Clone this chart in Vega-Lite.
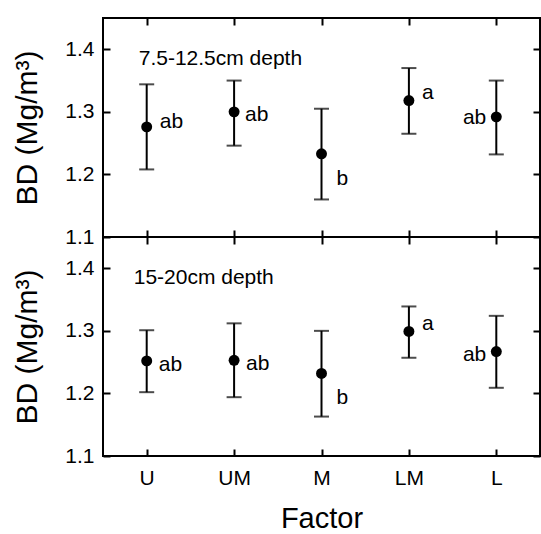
{
  "$schema": "https://vega.github.io/schema/vega-lite/v6.json",
  "padding": {"left": 11, "top": 16, "right": 0, "bottom": 0},
  "spacing": 0,
  "bounds": "flush",
  "config": {
    "font": "Liberation Sans",
    "view": {"stroke": "black", "strokeWidth": 2},
    "text": {"fontWeight": "normal"},
    "axis": {
      "domain": false, "grid": false,
      "tickColor": "black", "tickWidth": 2, "tickSize": -7,
      "labelColor": "black", "labelFontSize": 21, "labelPadding": 16,
      "titleColor": "black", "titleFontWeight": "normal", "titleFontSize": 30
    }
  },
  "datasets": {
    "bd": [
      {"depth": "top", "factor": "U", "mean": 1.276, "lower": 1.208, "upper": 1.344, "letter": "ab"},
      {"depth": "top", "factor": "UM", "mean": 1.300, "lower": 1.246, "upper": 1.350, "letter": "ab"},
      {"depth": "top", "factor": "M", "mean": 1.233, "lower": 1.160, "upper": 1.305, "letter": "b"},
      {"depth": "top", "factor": "LM", "mean": 1.318, "lower": 1.265, "upper": 1.370, "letter": "a"},
      {"depth": "top", "factor": "L", "mean": 1.292, "lower": 1.232, "upper": 1.350, "letter": "ab"},
      {"depth": "bottom", "factor": "U", "mean": 1.252, "lower": 1.202, "upper": 1.301, "letter": "ab"},
      {"depth": "bottom", "factor": "UM", "mean": 1.253, "lower": 1.194, "upper": 1.312, "letter": "ab"},
      {"depth": "bottom", "factor": "M", "mean": 1.232, "lower": 1.163, "upper": 1.300, "letter": "b"},
      {"depth": "bottom", "factor": "LM", "mean": 1.299, "lower": 1.257, "upper": 1.339, "letter": "a"},
      {"depth": "bottom", "factor": "L", "mean": 1.267, "lower": 1.209, "upper": 1.324, "letter": "ab"}
    ],
    "labels": [
      {"depth": "top", "label": "7.5-12.5cm depth"},
      {"depth": "bottom", "label": "15-20cm depth"}
    ]
  },
  "vconcat": [
    {
      "width": 437, "height": 219,
      "data": {"name": "bd"},
      "transform": [{"filter": "datum.depth === 'top'"}],
      "layer": [
        {
          "mark": {"type": "rule", "strokeWidth": 2, "color": "black"},
          "encoding": {
            "x": {"field": "factor", "type": "nominal", "scale": {"type": "point", "domain": ["U", "UM", "M", "LM", "L"], "padding": 0.5},
                  "axis": {"orient": "bottom", "labels": false, "title": null}},
            "y": {"field": "lower", "type": "quantitative", "scale": {"domain": [1.1, 1.45], "nice": false, "zero": false},
                  "axis": {"orient": "left", "values": [1.1, 1.2, 1.3, 1.4], "format": ".1f", "labelFlush": false, "title": "BD (Mg/m³)", "titlePadding": 22}},
            "y2": {"field": "upper"}
          }
        },
        {
          "mark": {"type": "tick", "thickness": 2, "size": 15, "color": "black"},
          "encoding": {
            "x": {"field": "factor", "type": "nominal", "axis": {"orient": "top", "labels": false, "title": null}},
            "y": {"field": "upper", "type": "quantitative", "axis": {"orient": "right", "labels": false, "title": null, "values": [1.1, 1.2, 1.3, 1.4]}}
          }
        },
        {
          "mark": {"type": "tick", "thickness": 2, "size": 15, "color": "black"},
          "encoding": {
            "x": {"field": "factor", "type": "nominal", "axis": null},
            "y": {"field": "lower", "type": "quantitative", "axis": null}
          }
        },
        {
          "mark": {"type": "point", "filled": true, "size": 120, "color": "black", "opacity": 1},
          "encoding": {
            "x": {"field": "factor", "type": "nominal", "axis": null},
            "y": {"field": "mean", "type": "quantitative", "axis": null}
          }
        },
        {
          "transform": [{"filter": "datum.factor === 'U'"}],
          "mark": {"type": "text", "align": "left", "baseline": "alphabetic", "dx": 13, "dy": 1, "fontSize": 21, "fontWeight": "normal", "color": "black"},
          "encoding": {"x": {"field": "factor", "type": "nominal", "axis": null}, "y": {"field": "mean", "type": "quantitative", "axis": null}, "text": {"field": "letter"}}
        },
        {
          "transform": [{"filter": "datum.factor === 'UM'"}],
          "mark": {"type": "text", "align": "left", "baseline": "alphabetic", "dx": 11, "dy": 9, "fontSize": 21, "fontWeight": "normal", "color": "black"},
          "encoding": {"x": {"field": "factor", "type": "nominal", "axis": null}, "y": {"field": "mean", "type": "quantitative", "axis": null}, "text": {"field": "letter"}}
        },
        {
          "transform": [{"filter": "datum.factor === 'M'"}],
          "mark": {"type": "text", "align": "left", "baseline": "alphabetic", "dx": 15, "dy": 31, "fontSize": 21, "fontWeight": "normal", "color": "black"},
          "encoding": {"x": {"field": "factor", "type": "nominal", "axis": null}, "y": {"field": "mean", "type": "quantitative", "axis": null}, "text": {"field": "letter"}}
        },
        {
          "transform": [{"filter": "datum.factor === 'LM'"}],
          "mark": {"type": "text", "align": "left", "baseline": "alphabetic", "dx": 13, "dy": -2, "fontSize": 21, "fontWeight": "normal", "color": "black"},
          "encoding": {"x": {"field": "factor", "type": "nominal", "axis": null}, "y": {"field": "mean", "type": "quantitative", "axis": null}, "text": {"field": "letter"}}
        },
        {
          "transform": [{"filter": "datum.factor === 'L'"}],
          "mark": {"type": "text", "align": "right", "baseline": "alphabetic", "dx": -10, "dy": 7, "fontSize": 21, "fontWeight": "normal", "color": "black"},
          "encoding": {"x": {"field": "factor", "type": "nominal", "axis": null}, "y": {"field": "mean", "type": "quantitative", "axis": null}, "text": {"field": "letter"}}
        },
        {
          "data": {"name": "labels"},
          "transform": [{"filter": "datum.depth === 'top'"}],
          "mark": {"type": "text", "align": "left", "baseline": "alphabetic", "dx": -8, "dy": 16, "fontSize": 21, "fontWeight": "normal", "color": "black"},
          "encoding": {"x": {"datum": "U", "type": "nominal", "axis": null}, "y": {"datum": 1.4, "type": "quantitative", "axis": null}, "text": {"field": "label"}}
        }
      ]
    },
    {
      "width": 437, "height": 219,
      "data": {"name": "bd"},
      "transform": [{"filter": "datum.depth === 'bottom'"}],
      "layer": [
        {
          "mark": {"type": "rule", "strokeWidth": 2, "color": "black"},
          "encoding": {
            "x": {"field": "factor", "type": "nominal", "scale": {"type": "point", "domain": ["U", "UM", "M", "LM", "L"], "padding": 0.5},
                  "axis": {"orient": "bottom", "labelAngle": 0, "labelPadding": 18, "title": "Factor", "titleFontSize": 29, "titlePadding": 16}},
            "y": {"field": "lower", "type": "quantitative", "scale": {"domain": [1.1, 1.45], "nice": false, "zero": false},
                  "axis": {"orient": "left", "values": [1.1, 1.2, 1.3, 1.4], "format": ".1f", "labelFlush": false, "title": "BD (Mg/m³)", "titlePadding": 22}},
            "y2": {"field": "upper"}
          }
        },
        {
          "mark": {"type": "tick", "thickness": 2, "size": 15, "color": "black"},
          "encoding": {
            "x": {"field": "factor", "type": "nominal", "axis": {"orient": "top", "labels": false, "title": null}},
            "y": {"field": "upper", "type": "quantitative", "axis": {"orient": "right", "labels": false, "title": null, "values": [1.1, 1.2, 1.3, 1.4]}}
          }
        },
        {
          "mark": {"type": "tick", "thickness": 2, "size": 15, "color": "black"},
          "encoding": {
            "x": {"field": "factor", "type": "nominal", "axis": null},
            "y": {"field": "lower", "type": "quantitative", "axis": null}
          }
        },
        {
          "mark": {"type": "point", "filled": true, "size": 120, "color": "black", "opacity": 1},
          "encoding": {
            "x": {"field": "factor", "type": "nominal", "axis": null},
            "y": {"field": "mean", "type": "quantitative", "axis": null}
          }
        },
        {
          "transform": [{"filter": "datum.factor === 'U' || datum.factor === 'UM'"}],
          "mark": {"type": "text", "align": "left", "baseline": "alphabetic", "dx": 12, "dy": 10, "fontSize": 21, "fontWeight": "normal", "color": "black"},
          "encoding": {"x": {"field": "factor", "type": "nominal", "axis": null}, "y": {"field": "mean", "type": "quantitative", "axis": null}, "text": {"field": "letter"}}
        },
        {
          "transform": [{"filter": "datum.factor === 'M'"}],
          "mark": {"type": "text", "align": "left", "baseline": "alphabetic", "dx": 15, "dy": 31, "fontSize": 21, "fontWeight": "normal", "color": "black"},
          "encoding": {"x": {"field": "factor", "type": "nominal", "axis": null}, "y": {"field": "mean", "type": "quantitative", "axis": null}, "text": {"field": "letter"}}
        },
        {
          "transform": [{"filter": "datum.factor === 'LM'"}],
          "mark": {"type": "text", "align": "left", "baseline": "alphabetic", "dx": 13, "dy": -1, "fontSize": 21, "fontWeight": "normal", "color": "black"},
          "encoding": {"x": {"field": "factor", "type": "nominal", "axis": null}, "y": {"field": "mean", "type": "quantitative", "axis": null}, "text": {"field": "letter"}}
        },
        {
          "transform": [{"filter": "datum.factor === 'L'"}],
          "mark": {"type": "text", "align": "right", "baseline": "alphabetic", "dx": -10, "dy": 9, "fontSize": 21, "fontWeight": "normal", "color": "black"},
          "encoding": {"x": {"field": "factor", "type": "nominal", "axis": null}, "y": {"field": "mean", "type": "quantitative", "axis": null}, "text": {"field": "letter"}}
        },
        {
          "data": {"name": "labels"},
          "transform": [{"filter": "datum.depth === 'bottom'"}],
          "mark": {"type": "text", "align": "left", "baseline": "alphabetic", "dx": -13, "dy": 16, "fontSize": 21, "fontWeight": "normal", "color": "black"},
          "encoding": {"x": {"datum": "U", "type": "nominal", "axis": null}, "y": {"datum": 1.4, "type": "quantitative", "axis": null}, "text": {"field": "label"}}
        }
      ]
    }
  ]
}
